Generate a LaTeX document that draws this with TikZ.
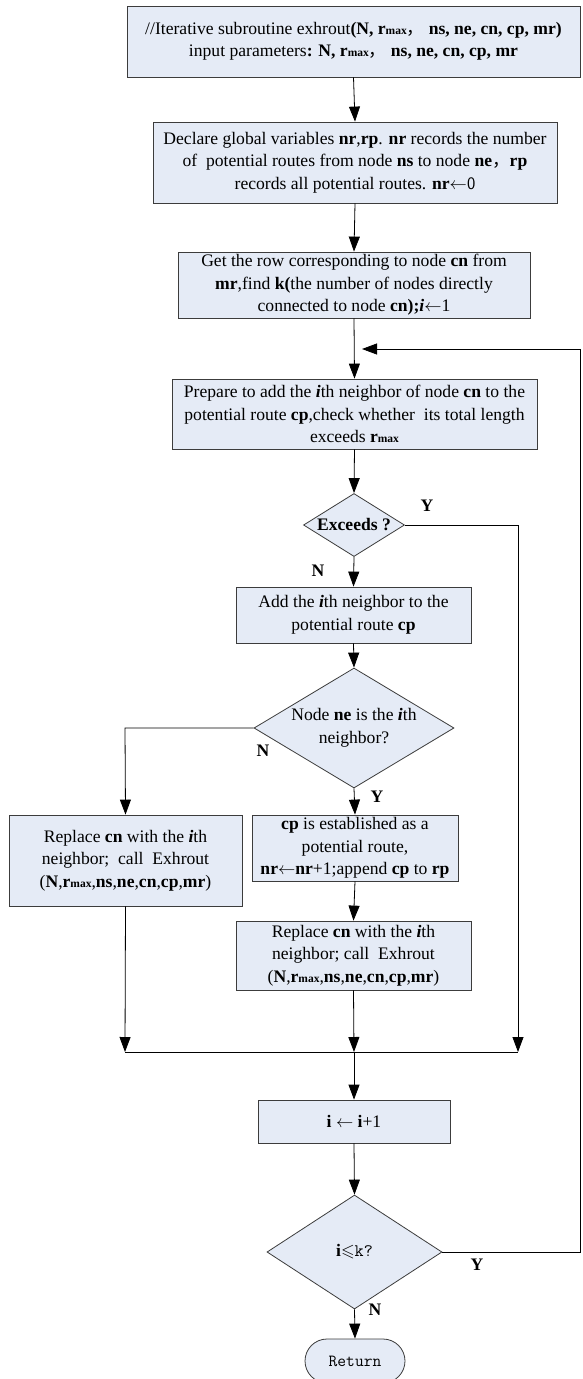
\documentclass[tikz,border=0pt]{standalone}
\usepackage{fontspec}
\setmainfont{Liberation Serif}
\newfontfamily\cjk{Noto Sans CJK SC}
\usepackage{amssymb}
\usetikzlibrary{arrows.meta,shapes.geometric,shapes.misc}
\definecolor{boxfill}{RGB}{229,235,246}
\definecolor{boxline}{RGB}{60,60,60}
\newcommand\rmx{\textbf{r{\fontsize{11.5}{11.5}\selectfont max}}}
\newcommand\ith{\textbf{\textit{i}}}
\tikzset{
  basefont/.style={font=\fontsize{17.6}{22.5}\selectfont},
  proc/.style={rectangle, draw=boxline, fill=boxfill, line width=0.8pt, align=center, inner sep=2pt, basefont},
  dec/.style={diamond, draw=boxline, fill=boxfill, line width=0.8pt, inner sep=0pt},
  dtext/.style={align=center, basefont, inner sep=0pt},
  term/.style={rounded rectangle, draw=boxline, fill=boxfill, line width=0.8pt, inner sep=2pt, font=\ttfamily\fontsize{17}{20}\selectfont},
  arr/.style={-{Triangle[length=15pt,width=11pt]}, line width=0.8pt},
  ln/.style={line width=0.8pt},
  lab/.style={font=\bfseries\fontsize{17.6}{20}\selectfont, inner sep=0pt}
}
\begin{document}
\begin{tikzpicture}[x=1pt,y=-1pt]
\useasboundingbox (0,0) rectangle (582,1379);
\fill[white] (0,0) rectangle (582,1379);

\node[proc, minimum width=453pt, minimum height=71pt] (b1) at (353.5,41.5)
  {//Iterative subroutine exhrout\textbf{(N, }\rmx{\cjk ，} \textbf{ns, ne, cn, cp, mr)}\\
   input parameters\textbf{: N, }\rmx{\cjk ，} \textbf{ns, ne, cn, cp, mr}};

\node[proc, minimum width=404pt, minimum height=81pt] (b2) at (355,162.5)
  {Declare global variables \textbf{nr},\textbf{rp}. \textbf{nr} records the number\\
   of \ potential routes from node \textbf{ns} to node \textbf{ne}{\cjk ，}\textbf{rp}\\
   records all potential routes. \textbf{nr}$\leftarrow${\sffamily 0}};

\node[proc, minimum width=352pt, minimum height=66pt] (b3) at (354,285)
  {Get the row corresponding to node \textbf{cn} from\\
   \textbf{mr},find \textbf{k(}the number of nodes directly\\
   connected to node \textbf{cn);}\ith$\leftarrow$1};

\node[proc, minimum width=365pt, minimum height=70pt] (b4) at (354.5,414)
  {Prepare to add the \ith th neighbor of node \textbf{cn} to the\\
   potential route \textbf{cp},check whether \ its total length\\
   exceeds \rmx};

\node[dec, minimum width=101pt, minimum height=63pt,
  label={[dtext,font=\bfseries\fontsize{17.6}{22}\selectfont]center:Exceeds ?}] (d1) at (354,525) {};

\node[proc, minimum width=235pt, minimum height=56pt] (b5) at (353.5,615)
  {Add the \ith th neighbor to the\\ potential route \textbf{cp}};

\node[dec, minimum width=200pt, minimum height=120pt,
  label={[dtext]center:Node \textbf{ne} is the \ith th\\ neighbor?}] (d2) at (354,728) {};

\node[proc, minimum width=233pt, minimum height=91pt] (b6) at (125.5,860.5)
  {Replace \textbf{cn} with the \ith th\\
   neighbor; \ call \ Exhrout\\
   (\textbf{N},\rmx,\textbf{ns},\textbf{ne},\textbf{cn},\textbf{cp},\textbf{mr})};

\node[proc, minimum width=206pt, minimum height=66pt] (b7) at (355,848)
  {\textbf{cp} is established as a\\
   potential route,\\
   \textbf{nr}$\leftarrow$\textbf{nr}+1;append \textbf{cp} to \textbf{rp}};

\node[proc, minimum width=235pt, minimum height=69pt] (b8) at (353.5,955.5)
  {Replace \textbf{cn} with the \ith th\\
   neighbor; call \ Exhrout\\
   (\textbf{N},\rmx,\textbf{ns},\textbf{ne},\textbf{cn},\textbf{cp},\textbf{mr})};

\node[proc, minimum width=192pt, minimum height=43pt] (b9) at (354,1121.5)
  {\textbf{i} $\leftarrow$ \textbf{i}+1};

\node[dec, minimum width=175pt, minimum height=114pt,
  label={[dtext]center:\textbf{i}$\leqslant${\ttfamily k?}}] (d3) at (354.5,1252) {};

\node[term, minimum width=104pt, minimum height=44pt] (ret) at (355,1361) {Return};

% coordinates
\coordinate (fbin) at (362,349);
\coordinate (fbtop) at (580,349);
\coordinate (fbbot) at (580,1252);
\coordinate (ycorner) at (518,525);
\coordinate (m1) at (125,1052);
\coordinate (m2) at (354,1052);
\coordinate (m3) at (518,1052);
\coordinate (ncorner) at (125,728);

% connectors
\draw[arr] (b1.south) -- (b2.north);
\draw[arr] (b2.south) -- (b3.north);
\draw[arr] (b3.south) -- (b4.north);
\draw[arr] (d3.east) -- (fbbot) -- (fbtop) -- (fbin);
\draw[arr] (b4.south) -- (d1.north);
\draw[ln] (d1.east) -- (ycorner);
\draw[arr] (ycorner) -- (m3);
\draw[arr] (d1.south) -- (b5.north);
\draw[arr] (b5.south) -- (d2.north);
\draw[arr] (d2.west) -- (ncorner) -- (b6.north);
\draw[arr] (d2.south) -- (b7.north);
\draw[arr] (b7.south) -- (b8.north);
\draw[arr] (b6.south) -- (m1);
\draw[arr] (b8.south) -- (m2);
\draw[ln] (m1) -- (m3);
\draw[arr] (m2) -- (b9.north);
\draw[arr] (b9.south) -- (d3.north);
\draw[arr] (d3.south) -- (ret.north);

% labels
\node[lab] (ly1) at (427,506) {Y};
\node[lab] (ln1) at (318,571) {N};
\node[lab] (ln2) at (263,751) {N};
\node[lab] (ly2) at (377,797) {Y};
\node[lab] (ly3) at (477,1265) {Y};
\node[lab] (ln3) at (375,1310) {N};
\end{tikzpicture}
\end{document}
